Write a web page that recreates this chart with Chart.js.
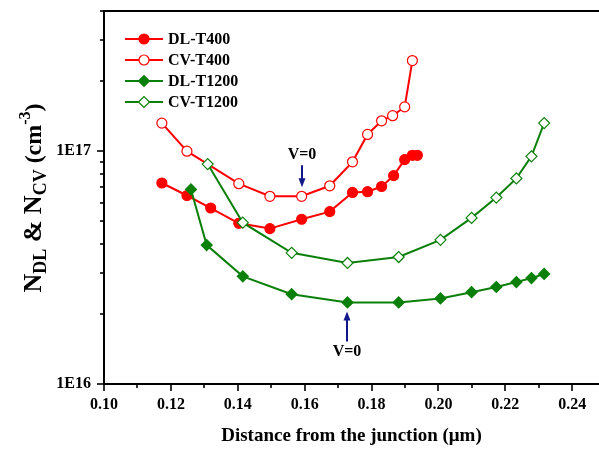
<!DOCTYPE html>
<html>
<head>
<meta charset="utf-8">
<script src="https://cdn.jsdelivr.net/npm/chart.js@4.4.1/dist/chart.umd.min.js"></script>
<style>
  html, body { margin: 0; padding: 0; background: #fff; }
  canvas { display: block; }
</style>
</head>
<body>
<canvas id="chart" width="599" height="453"></canvas>
<script>
// Doping profiles: deep-level (DL) and capacitance-voltage (CV) concentrations
const seriesNames = ['DL-T400', 'CV-T400', 'DL-T1200', 'CV-T1200'];

const dlT400X = [0.1173, 0.1248, 0.1319, 0.1403, 0.1496, 0.1591, 0.1675, 0.1743, 0.1788, 0.1830, 0.1866, 0.1899, 0.1922, 0.1937];
const dlT400Y = [7.3e16, 6.45e16, 5.7e16, 4.9e16, 4.65e16, 5.1e16, 5.5e16, 6.65e16, 6.7e16, 7.05e16, 7.85e16, 9.2e16, 9.6e16, 9.6e16];

const cvT400X = [0.1173, 0.1248, 0.1403, 0.1496, 0.1591, 0.1675, 0.1743, 0.1788, 0.1830, 0.1863, 0.1899, 0.1922];
const cvT400Y = [1.32e17, 1.0e17, 7.25e16, 6.4e16, 6.4e16, 7.1e16, 9.0e16, 1.18e17, 1.35e17, 1.42e17, 1.55e17, 2.45e17];

const dlT1200X = [0.1260, 0.1307, 0.1415, 0.1561, 0.1728, 0.1881, 0.2006, 0.2099, 0.2173, 0.2233, 0.2278, 0.2316];
const dlT1200Y = [6.85e16, 3.95e16, 2.9e16, 2.43e16, 2.24e16, 2.24e16, 2.33e16, 2.48e16, 2.61e16, 2.74e16, 2.85e16, 2.97e16];

const cvT1200X = [0.1310, 0.1415, 0.1561, 0.1728, 0.1881, 0.2006, 0.2099, 0.2173, 0.2233, 0.2278, 0.2316];
const cvT1200Y = [8.8e16, 4.93e16, 3.66e16, 3.31e16, 3.51e16, 4.16e16, 5.17e16, 6.32e16, 7.64e16, 9.5e16, 1.32e17];

// Axis ticks
const xTickValues = [0.10, 0.12, 0.14, 0.16, 0.18, 0.20, 0.22, 0.24];
const xMinorValues = [0.11, 0.13, 0.15, 0.17, 0.19, 0.21, 0.23];
const yTickValues = [1e16, 1e17];
const yTickLabels = ['1E16', '1E17'];
const yMinorValues = [2e16, 3e16, 4e16, 5e16, 6e16, 7e16, 8e16, 9e16, 2e17, 3e17, 4e17];

// "V=0" markers: [series index, point index, side]
const vZeroMarks = [[1, 4, 'above'], [2, 4, 'below']];

const RED = '#ff0000';
const GREEN = '#0a800a';
const NAVY = '#10188a';
const SERIF = '"Liberation Serif", "Times New Roman", serif';

const toPoints = (xs, ys) => xs.map((x, i) => ({ x, y: ys[i] }));

function series(label, xs, ys, color, style, filled, radius, order) {
  return {
    label,
    data: toPoints(xs, ys),
    borderColor: color,
    backgroundColor: filled ? color : '#ffffff',
    pointBorderColor: color,
    pointBackgroundColor: filled ? color : '#ffffff',
    pointStyle: style,
    pointRadius: radius,
    pointBorderWidth: 1.2,
    borderWidth: 2,
    tension: 0,
    order
  };
}

const datasets = [
  series(seriesNames[0], dlT400X, dlT400Y, RED, 'circle', true, 5, 2),
  series(seriesNames[1], cvT400X, cvT400Y, RED, 'circle', false, 5, 2),
  series(seriesNames[2], dlT1200X, dlT1200Y, GREEN, 'rectRot', true, 5.5, 1),
  series(seriesNames[3], cvT1200X, cvT1200Y, GREEN, 'rectRot', false, 5.5, 1)
];

// Axis frame, minor/major tick marks, legend, y-axis title and V=0 arrows
const decorations = {
  id: 'decorations',
  afterDraw(chart) {
    const { ctx, chartArea: a, scales: { x, y } } = chart;
    ctx.save();

    // top frame line
    ctx.strokeStyle = '#000';
    ctx.lineWidth = 2;
    ctx.beginPath();
    ctx.moveTo(a.left - 1, a.top);
    ctx.lineTo(a.right, a.top);
    ctx.stroke();

    // tick marks (outward)
    ctx.lineWidth = 1.6;
    const xTick = (v, len) => {
      const px = Math.round(x.getPixelForValue(v));
      ctx.beginPath(); ctx.moveTo(px, a.bottom); ctx.lineTo(px, a.bottom + len); ctx.stroke();
    };
    const yTick = (v, len) => {
      const py = Math.round(y.getPixelForValue(v));
      ctx.beginPath(); ctx.moveTo(a.left, py); ctx.lineTo(a.left - len, py); ctx.stroke();
    };
    xTickValues.forEach(v => xTick(v, 7));
    xMinorValues.forEach(v => xTick(v, 4));
    yTickValues.forEach(v => yTick(v, 7));
    yMinorValues.forEach(v => yTick(v, 4));

    // legend
    const rows = [39, 60, 81, 102];
    chart.data.datasets.forEach((ds, i) => {
      const ly = rows[i];
      ctx.strokeStyle = ds.borderColor;
      ctx.lineWidth = 2;
      ctx.beginPath(); ctx.moveTo(125, ly); ctx.lineTo(163, ly); ctx.stroke();
      ctx.fillStyle = ds.pointBackgroundColor;
      ctx.strokeStyle = ds.pointBorderColor;
      ctx.lineWidth = ds.pointBorderWidth;
      Chart.helpers.drawPoint(ctx, { pointStyle: ds.pointStyle, radius: ds.pointRadius, rotation: 0, borderWidth: ds.pointBorderWidth }, 144, ly);
      ctx.fillStyle = '#000';
      ctx.font = 'bold 16px ' + SERIF;
      ctx.textAlign = 'left';
      ctx.textBaseline = 'middle';
      ctx.fillText(ds.label, 168, ly + 1);
    });

    // V=0 arrows
    vZeroMarks.forEach(([si, pi, side]) => {
      const pt = chart.getDatasetMeta(si).data[pi];
      const px = Math.round(pt.x);
      const dir = side === 'above' ? -1 : 1;
      const tipY = pt.y + dir * 9;
      const tailY = pt.y + dir * (side === 'above' ? 31 : 39);
      ctx.strokeStyle = NAVY;
      ctx.fillStyle = NAVY;
      ctx.lineWidth = 2;
      ctx.beginPath(); ctx.moveTo(px, tailY); ctx.lineTo(px, tipY + dir * 6); ctx.stroke();
      ctx.beginPath();
      ctx.moveTo(px, tipY);
      ctx.lineTo(px - 3.5, tipY + dir * 9);
      ctx.lineTo(px + 3.5, tipY + dir * 9);
      ctx.closePath(); ctx.fill();
      ctx.fillStyle = '#000';
      ctx.font = 'bold 16px ' + SERIF;
      ctx.textAlign = 'center';
      ctx.textBaseline = 'middle';
      ctx.fillText('V=0', px, tailY + dir * 10);
    });

    // rotated y-axis title with subscripts and superscript
    const parts = [
      { t: 'N', f: 'bold 26px ' + SERIF, dy: 0 },
      { t: 'DL', f: 'bold 18px ' + SERIF, dy: 5 },
      { t: ' & ', f: 'bold 26px ' + SERIF, dy: 0 },
      { t: 'N', f: 'bold 26px ' + SERIF, dy: 0 },
      { t: 'CV', f: 'bold 18px ' + SERIF, dy: 5 },
      { t: ' (cm', f: 'bold 24px ' + SERIF, dy: 0 },
      { t: '-3', f: 'bold 16px ' + SERIF, dy: -11 },
      { t: ')', f: 'bold 24px ' + SERIF, dy: 0 }
    ];
    let total = 0;
    parts.forEach(p => { ctx.font = p.f; p.w = ctx.measureText(p.t).width; total += p.w; });
    ctx.translate(41, 198);
    ctx.rotate(-Math.PI / 2);
    ctx.fillStyle = '#000';
    ctx.textAlign = 'left';
    ctx.textBaseline = 'alphabetic';
    let cx = -total / 2;
    parts.forEach(p => { ctx.font = p.f; ctx.fillText(p.t, cx, p.dy); cx += p.w; });

    ctx.restore();
  }
};

new Chart(document.getElementById('chart'), {
  type: 'line',
  data: { datasets },
  options: {
    responsive: false,
    animation: false,
    events: [],
    layout: { autoPadding: false, padding: { top: 11, right: 0, left: 0, bottom: 0 } },
    plugins: { legend: { display: false }, tooltip: { enabled: false } },
    scales: {
      x: {
        type: 'linear',
        min: 0.10,
        max: 0.248,
        afterFit: s => { s.height = 69; s.paddingLeft = 0; s.paddingRight = 0; },
        afterBuildTicks: s => { s.ticks = xTickValues.map(v => ({ value: v })); },
        grid: { display: false, drawTicks: false },
        border: { display: true, color: '#000', width: 2 },
        ticks: {
          padding: 11,
          color: '#000',
          maxRotation: 0,
          autoSkip: false,
          font: { family: SERIF, size: 16, weight: 'bold' },
          callback: v => v.toFixed(2)
        },
        title: {
          display: true,
          text: 'Distance from the junction (\u03bcm)',
          color: '#000',
          font: { family: SERIF, size: 19, weight: 'bold' },
          padding: { top: 0, bottom: 6 }
        }
      },
      y: {
        type: 'logarithmic',
        min: 1e16,
        max: 4e17,
        afterFit: s => { s.width = 104; s.paddingTop = 0; s.paddingBottom = 0; },
        afterBuildTicks: s => { s.ticks = yTickValues.map(v => ({ value: v })); },
        grid: { display: false, drawTicks: false },
        border: { display: true, color: '#000', width: 2 },
        ticks: {
          padding: 13,
          color: '#000',
          autoSkip: false,
          font: { family: SERIF, size: 16, weight: 'bold' },
          callback: (v, i) => yTickLabels[i]
        }
      }
    }
  },
  plugins: [decorations]
});
</script>
</body>
</html>
